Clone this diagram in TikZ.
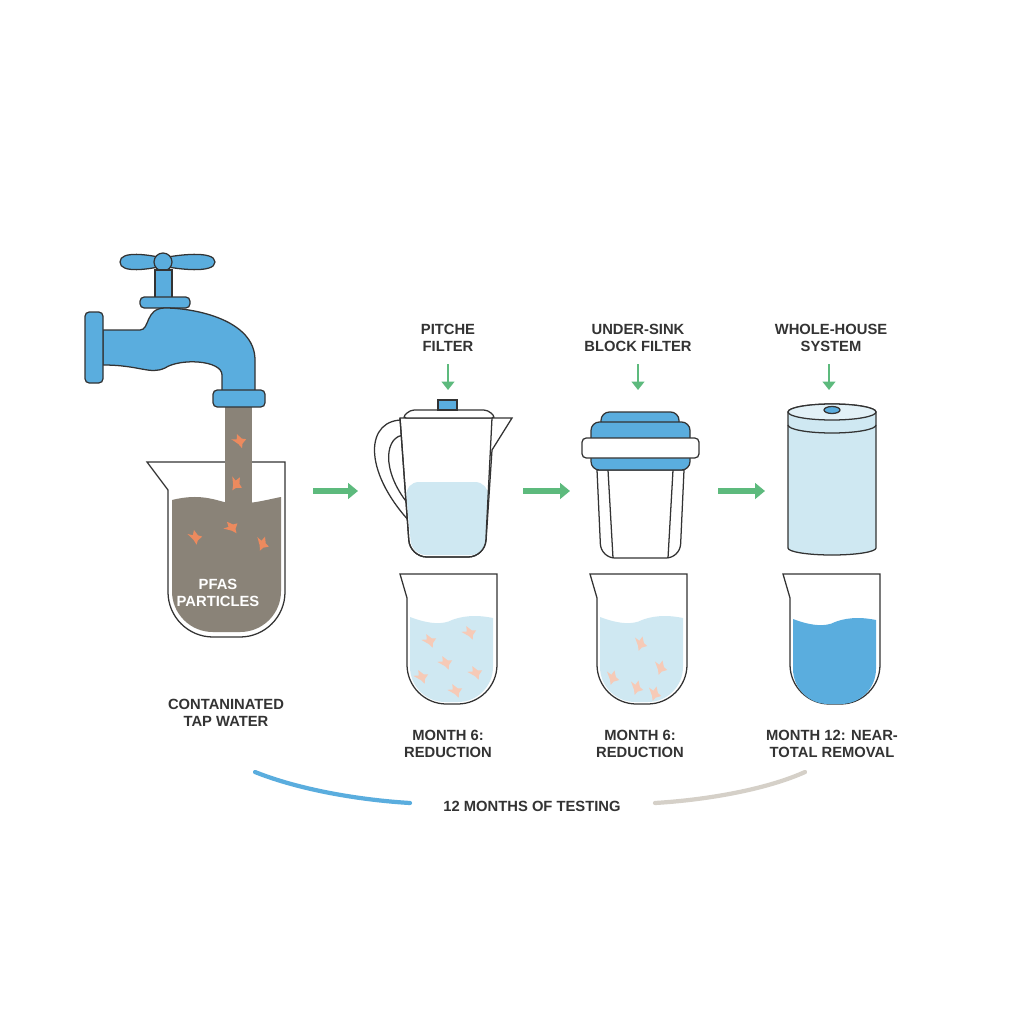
\documentclass[tikz,border=0pt]{standalone}
\usepackage{fontspec}
\setmainfont{Liberation Sans}
\usetikzlibrary{arrows.meta}
\definecolor{tapblue}{HTML}{5AADDE}
\definecolor{paleblue}{HTML}{CFE8F2}
\definecolor{murky}{HTML}{8A8378}
\definecolor{speck}{HTML}{EC8A5E}
\definecolor{flowgreen}{HTML}{5DBA7D}
\definecolor{inkline}{HTML}{333333}
\definecolor{trackgray}{HTML}{D5D0C8}
\tikzset{
  outline/.style={draw=inkline, line width=0.9pt},
  label/.style={align=center, font=\fontsize{10.5}{12.5}\selectfont\bfseries, text=inkline},
  flow/.style={-{Triangle[length=7pt,width=11pt]}, flowgreen, line width=4pt},
  drop/.style={-{Triangle[length=6pt,width=9pt]}, flowgreen, line width=2pt},
}
% small contaminant flake
\newcommand\flake[3]{\fill[#3, rotate around={#2:(#1)}] (#1) ++(-6,-3) -- ++(5,2) -- ++(2,-5) -- ++(3,6) -- ++(4,2) -- ++(-5,3) -- ++(-2,4) -- ++(-2,-5) -- cycle;}
% lab beaker at centre x, rim y
\newcommand\beaker[2]{\draw[outline, fill=white] (#1-41,#2+24) -- (#1-48,#2) -- (#1+49,#2) [rounded corners=28] -- (#1+49,#2+130) -- (#1-41,#2+130) [sharp corners] -- cycle;}
% water inside a beaker: centre x, surface y, colour
\newcommand\water[3]{\fill[#3] (#1-38,#2-3) .. controls (#1-20,#2+4) and (#1-5,#2+5) .. (#1+4,#2) .. controls (#1+20,#2-6) and (#1+35,#2-4) .. (#1+45,#2-2) [rounded corners=25] -- (#1+45,#2+82) -- (#1-38,#2+82) [sharp corners] -- cycle;}
\begin{document}
\begin{tikzpicture}[x=0.025cm, y=-0.025cm]
\useasboundingbox (0,0) rectangle (1024,1024);
\fill[white] (0,0) rectangle (1024,1024);

% faucet
\fill[murky] (225,405) rectangle (252,500);
\draw[outline, fill=tapblue] (120,262) .. controls (120,250) and (150,255) .. (163,258) .. controls (176,255) and (215,250) .. (215,262) .. controls (215,274) and (176,269) .. (163,266) .. controls (150,269) and (120,274) .. (120,262) -- cycle;
\draw[outline, fill=tapblue] (163,262) circle (9);
\draw[outline, fill=tapblue] (155,270) rectangle (172,298);
\draw[outline, fill=tapblue, rounded corners=3] (140,297) rectangle (190,308);
\draw[outline, fill=tapblue] (103,330) -- (140,330) .. controls (150,330) and (145,308) .. (165,308) .. controls (195,308) and (255,320) .. (255,360) -- (255,392) -- (222,392) -- (222,375) .. controls (222,360) and (180,358) .. (165,368) .. controls (150,375) and (140,365) .. (103,365) -- cycle;
\draw[outline, fill=tapblue, rounded corners=3] (85,312) rectangle (103,383);
\draw[outline, fill=tapblue, rounded corners=3] (213,390) rectangle (265,407);

% contaminated beaker
\draw[outline, fill=white] (168,490) -- (147,462) -- (285,462) [rounded corners=32] -- (285,637) -- (168,637) [sharp corners] -- cycle;
\fill[murky] (172,500) .. controls (200,493) and (215,500) .. (228,503) .. controls (250,505) and (265,500) .. (281,497) [rounded corners=29] -- (281,632) -- (172,632) [sharp corners] -- cycle;
\fill[murky] (225,460) rectangle (252,505);
\flake{238,440}{20}{speck}
\flake{236,482}{-30}{speck}
\flake{194,536}{10}{speck}
\flake{230,527}{40}{speck}
\flake{262,542}{-20}{speck}
\node[label, text=white] (pfas) at (218,593) {PFAS\\PARTICLES};
\node[label] (tap) at (226,713) {CONTANINATED\\TAP WATER};

% pitcher filter
\node[label] (pitchlbl) at (448,338) {PITCHE\\FILTER};
\draw[outline, fill=white] (405,420) .. controls (365,418) and (362,470) .. (410,522) -- (409,505) .. controls (380,470) and (385,435) .. (405,435) -- cycle;
\draw[outline, fill=white] (400,418) -- (512,418) -- (492,450) [rounded corners=12] -- (485,557) -- (410,557) [sharp corners] -- cycle;
\fill[paleblue, rounded corners=10] (405,482) -- (489,482) -- (485,555) -- (412,555) -- cycle;
\draw[outline, rounded corners=12] (400,418) -- (410,557) -- (485,557) -- (492,418);
\draw[outline, fill=white, rounded corners=3] (402,418) -- (410,410) -- (488,410) -- (496,418) -- cycle;
\draw[outline, fill=tapblue] (438,400) rectangle (457,410);

% under-sink block filter
\node[label] (sinklbl) at (638,338) {UNDER-SINK\\BLOCK FILTER};
\draw[outline, fill=white] (684,470) [rounded corners=10] -- (680,558) -- (601,558) [sharp corners] -- (597,470) -- cycle;
\draw[outline] (608,470) -- (613,558);
\draw[outline] (673,470) -- (668,558);
\draw[outline, fill=tapblue, rounded corners=6] (601,428) -- (601,412) -- (679,412) -- (679,428);
\draw[outline, fill=tapblue, rounded corners=6] (591,470) rectangle (690,422);
\draw[outline, fill=white, rounded corners=3] (582,438) rectangle (699,458);

% whole-house system
\node[label] (houselbl) at (831,338) {WHOLE-HOUSE\\SYSTEM};
\draw[outline, fill=paleblue] (788,412) -- (788,548) arc (180:0:44 and 7) -- (876,412) arc (0:-180:44 and 8);
\draw[outline, fill=paleblue!60] (832,412) ellipse (44 and 8);
\draw[outline] (788,425) arc (180:0:44 and 8);
\draw[outline, fill=tapblue] (832,410) ellipse (8 and 3.5);

% arrows between stages
\draw[flow] (313,491) -- (358,491);
\draw[flow] (523,491) -- (570,491);
\draw[flow] (718,491) -- (765,491);
\foreach \cx in {448,638,829} {\draw[drop] (\cx,364) -- (\cx,390);}

% result beakers
\beaker{448}{574}
\water{448}{620}{paleblue}
\foreach \px/\py in {428/640,468/632,444/662,420/676,474/672,454/690} {\flake{\px,\py}{25}{speck!45}}
\node[label] (mon6a) at (448,744) {MONTH 6:\\REDUCTION};

\beaker{638}{574}
\water{638}{620}{paleblue}
\foreach \px/\py in {640/642,660/666,612/676,636/686,654/692} {\flake{\px,\py}{-15}{speck!45}}
\node[label] (mon6b) at (640,744) {MONTH 6:\\REDUCTION};

\beaker{831}{574}
\water{831}{622}{tapblue}
\node[label] (mon12) at (832,744) {MONTH 12: NEAR-\\TOTAL REMOVAL};

% timeline
\node[label] (months) at (532,806) {12 MONTHS OF TESTING};
\draw[tapblue, line width=3pt, line cap=round] (255,772) .. controls (300,790) and (360,800) .. (410,803);
\draw[trackgray, line width=3pt, line cap=round] (655,803) .. controls (705,800) and (765,790) .. (805,772);
\end{tikzpicture}
\end{document}
